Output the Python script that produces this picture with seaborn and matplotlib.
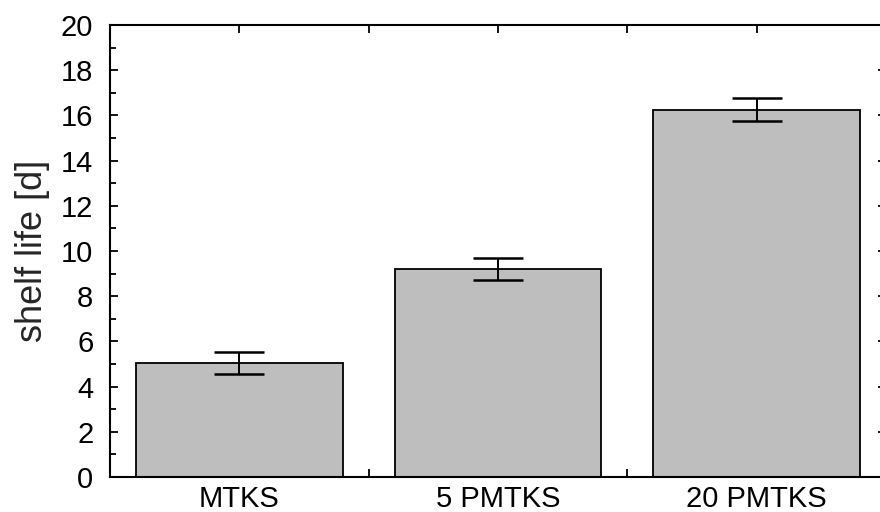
import matplotlib
matplotlib.use("Agg")
import matplotlib.pyplot as plt
from matplotlib.ticker import MultipleLocator
import seaborn as sns
import pandas as pd

# valores
amostras = ["MTKS", "5 PMTKS", "20 PMTKS"]
vida_util = [5.05, 9.2, 16.25]
desvio = [0.5, 0.5, 0.5]

sns.set_style("ticks")
plt.rcParams["font.family"] = ["Liberation Sans", "DejaVu Sans"]

df = pd.DataFrame({"amostra": amostras, "vida": vida_util})

fig = plt.figure(figsize=(8.8, 5.12), dpi=100)
ax = fig.add_axes([110 / 880, 35 / 512, 776 / 880, 452 / 512])

sns.barplot(data=df, x="amostra", y="vida", color="#bebebe", saturation=1,
            width=0.8, edgecolor="black", linewidth=1.3, errorbar=None, ax=ax)
ax.errorbar(range(len(amostras)), vida_util, yerr=desvio, fmt="none",
            ecolor="black", elinewidth=1.4, capsize=18, capthick=1.8)

ax.set_xlim(-0.5, 2.5)
ax.set_ylim(0, 20)
ax.yaxis.set_major_locator(MultipleLocator(2))
ax.yaxis.set_minor_locator(MultipleLocator(1))
ax.xaxis.set_minor_locator(MultipleLocator(0.5))

ax.set_xlabel("")
ax.set_ylabel("shelf life [d]", fontsize=26, labelpad=8)
ax.tick_params(axis="both", which="both", direction="in", top=True, right=True,
               width=1.3, colors="black")
ax.tick_params(axis="y", which="major", length=6, labelsize=21, pad=12)
ax.tick_params(axis="y", which="minor", length=4)
ax.tick_params(axis="x", which="both", length=6, labelsize=21, pad=6)
for sp in ax.spines.values():
    sp.set_linewidth(1.5)
    sp.set_color("black")

fig.savefig("out.png", dpi=100)
